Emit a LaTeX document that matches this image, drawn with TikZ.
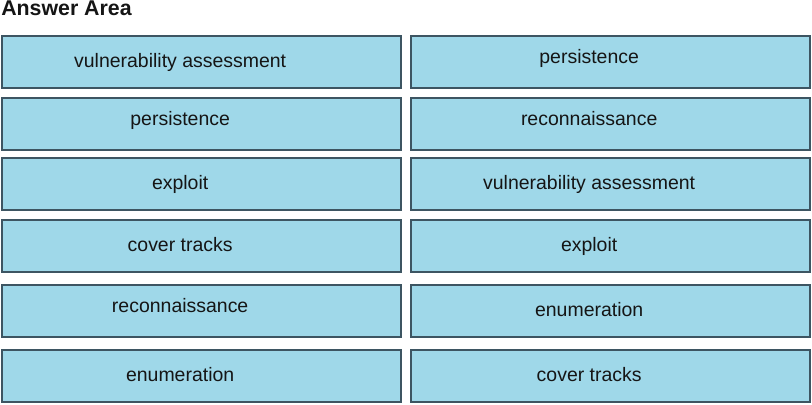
\documentclass[tikz,border=0pt]{standalone}
\usepackage{fontspec}
\setmainfont{Liberation Sans}

\definecolor{boxfill}{HTML}{9FD8E9}
\definecolor{boxline}{HTML}{3D5562}
\definecolor{boxtext}{HTML}{151515}

\tikzset{
  answerbox/.style={draw=boxline, fill=boxfill, line width=1.3pt,
    minimum width=299pt, minimum height=39.5pt, inner sep=0pt,
    text=boxtext, font=\fontsize{14.6}{16}\selectfont,
    text height=11pt, text depth=3pt,
    execute at end node={\hspace{32pt}}},
  raised/.style={text depth=9pt}
}

\begin{document}
\begin{tikzpicture}[x=0.75pt,y=-0.75pt]
	\useasboundingbox (0,0) rectangle (812,404);
	\node[anchor=base west, inner sep=0pt, text=boxtext, font=\bfseries\fontsize{16}{18}\selectfont] (title) at (1,15) {Answer Area};
	% left column
	\node[answerbox] (L1) at (201.5,62) {vulnerability assessment};
	\node[answerbox,raised] (L2) at (201.5,124) {persistence};
	\node[answerbox] (L3) at (201.5,184) {exploit};
	\node[answerbox] (L4) at (201.5,246) {cover tracks};
	\node[answerbox,raised] (L5) at (201.5,311) {reconnaissance};
	\node[answerbox] (L6) at (201.5,376) {enumeration};
	% right column
	\node[answerbox,raised] (R1) at (610.5,62) {persistence};
	\node[answerbox,raised] (R2) at (610.5,124) {reconnaissance};
	\node[answerbox] (R3) at (610.5,184) {vulnerability assessment};
	\node[answerbox] (R4) at (610.5,246) {exploit};
	\node[answerbox] (R5) at (610.5,311) {enumeration};
	\node[answerbox] (R6) at (610.5,376) {cover tracks};
\end{tikzpicture}
\end{document}
